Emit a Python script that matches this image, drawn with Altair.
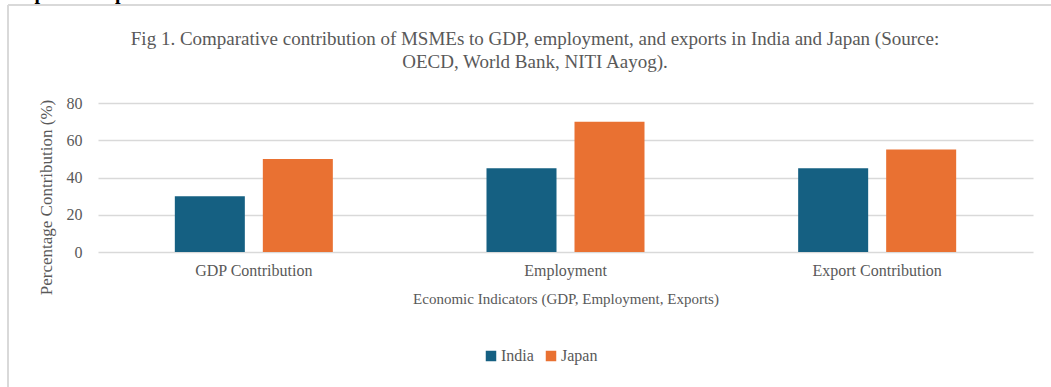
import altair as alt
import pandas as pd

indicators = ["GDP Contribution", "Employment", "Export Contribution"]
countries = ["India", "Japan"]
india_values = [30, 45, 45]
japan_values = [50, 70, 55]
y_ticks = [0, 20, 40, 60, 80]
colors = ["#156082", "#E97132"]
title_lines = ["Fig 1. Comparative contribution of MSMEs to GDP, employment, and exports in India and Japan (Source:",
               "OECD, World Bank, NITI Aayog)."]

rows = []
for i, ind in enumerate(indicators):
    rows.append({"Indicator": ind, "Country": "India", "Value": india_values[i]})
    rows.append({"Indicator": ind, "Country": "Japan", "Value": japan_values[i]})
df = pd.DataFrame(rows)

FONT = "Liberation Serif"
GRAY = "#595959"
W, H = 935, 149

bars = alt.Chart(df).mark_bar().encode(
    x=alt.X("Indicator:N", sort=indicators,
            scale=alt.Scale(paddingInner=0, paddingOuter=0),
            axis=alt.Axis(title="Economic Indicators (GDP, Employment, Exports)",
                          labelAngle=0, ticks=False, domain=False, grid=False,
                          labelPadding=10, titlePadding=13,
                          labelFontSize=16, titleFontSize=15,
                          labelColor=GRAY, titleColor=GRAY,
                          labelFont=FONT, titleFont=FONT, titleFontWeight="normal")),
    xOffset=alt.XOffset("Country:N", sort=countries,
                        scale=alt.Scale(paddingInner=0.2045, paddingOuter=0.873)),
    y=alt.Y("Value:Q", scale=alt.Scale(domain=[0, 80], nice=False),
            axis=alt.Axis(title="Percentage Contribution (%)", values=y_ticks,
                          ticks=False, domain=False, labelPadding=16,
                          titlePadding=11, titleY=94,
                          labelFontSize=16, titleFontSize=17,
                          labelColor=GRAY, titleColor=GRAY,
                          labelFont=FONT, titleFont=FONT, titleFontWeight="normal",
                          gridColor="#d9d9d9", gridWidth=1.5)),
    color=alt.Color("Country:N", sort=countries,
                    scale=alt.Scale(domain=countries, range=colors),
                    legend=alt.Legend(title=None, orient="none", direction="horizontal",
                                      legendX=385, legendY=245, symbolType="square",
                                      symbolSize=110, symbolStrokeWidth=0,
                                      labelFont=FONT, labelFontSize=16, labelColor=GRAY,
                                      columnPadding=9, labelOffset=2)),
)

frame_df = pd.DataFrame({"k": [0]})
left_line = alt.Chart(frame_df).mark_rule(color="#d9d9d9", strokeWidth=2).encode(
    x=alt.value(-90), y=alt.value(-98), y2=alt.value(300))
top_line = alt.Chart(frame_df).mark_rule(color="#d9d9d9", strokeWidth=2).encode(
    x=alt.value(-90), x2=alt.value(960), y=alt.value(-98))

head_df = pd.DataFrame({"t": ["Graphical Representation"]})
head = alt.Chart(head_df).mark_text(
    font=FONT, fontSize=20, fontWeight="bold", align="left", baseline="alphabetic",
    color="#000000").encode(text="t:N", x=alt.value(-98), y=alt.value(-104))

t1 = alt.Chart(pd.DataFrame({"t": [title_lines[0]]})).mark_text(
    font=FONT, fontSize=19, align="center", baseline="alphabetic", color=GRAY
).encode(text="t:N", x=alt.value(437), y=alt.value(-58))
t2 = alt.Chart(pd.DataFrame({"t": [title_lines[1]]})).mark_text(
    font=FONT, fontSize=19, align="center", baseline="alphabetic", color=GRAY
).encode(text="t:N", x=alt.value(437), y=alt.value(-35))

chart = alt.layer(bars, left_line, top_line, head, t1, t2).properties(
    width=W, height=H,
    autosize=alt.AutoSizeParams(type="none"),
    padding={"left": 98, "top": 103, "right": 18, "bottom": 135},
).configure(background="white").configure_view(stroke="transparent", strokeWidth=0)

chart.save("out.html", embed_options={"renderer": "svg", "actions": False})
